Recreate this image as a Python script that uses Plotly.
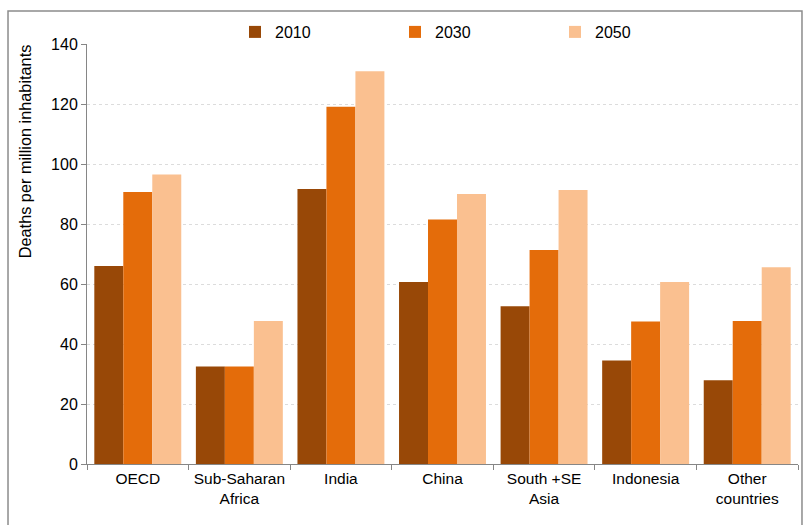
import plotly.graph_objects as go

regions = ["OECD", "Sub-Saharan<br>Africa", "India", "China",
           "South +SE<br>Asia", "Indonesia", "Other<br>countries"]
years = ["2010", "2030", "2050"]
deaths_2010 = [66.0, 32.5, 91.7, 60.7, 52.6, 34.5, 27.9]
deaths_2030 = [90.7, 32.5, 119.1, 81.5, 71.3, 47.5, 47.7]
deaths_2050 = [96.5, 47.7, 130.9, 90.0, 91.3, 60.7, 65.6]
colors = ["#984807", "#E46C0A", "#FAC090"]

fig = go.Figure()
for name, vals, col in zip(years, [deaths_2010, deaths_2030, deaths_2050], colors):
    fig.add_trace(go.Bar(
        name=name, x=regions, y=vals,
        marker=dict(color=col, line=dict(width=0)),
    ))

font = "Liberation Sans, Arial, sans-serif"
fig.update_layout(
    width=803, height=525,
    margin=dict(l=87, r=5, t=44, b=61, autoexpand=False),
    paper_bgcolor="white", plot_bgcolor="white",
    barmode="group", bargap=0.144, bargroupgap=0,
    font=dict(family=font, size=15.5, color="#000000"),
    showlegend=True,
    legend=dict(
        orientation="h", xref="container", yref="container",
        x=235 / 803, y=1 - 32 / 525, xanchor="left", yanchor="middle",
        entrywidth=115, entrywidthmode="pixels", itemwidth=30,
        font=dict(size=16), bgcolor="rgba(0,0,0,0)",
        traceorder="normal",
    ),
    xaxis=dict(
        showline=True, linecolor="#868686", linewidth=1,
        ticks="outside", tickson="boundaries", ticklen=5, tickcolor="#868686",
        tickfont=dict(size=15.5), showgrid=False,
    ),
    yaxis=dict(
        range=[0, 140], tick0=0, dtick=20,
        showline=True, linecolor="#868686", linewidth=1,
        ticks="outside", ticklen=5, tickcolor="#868686",
        tickfont=dict(size=16),
        showgrid=True, gridcolor="#dcdcdc", griddash="dot", gridwidth=1,
        zeroline=False,
    ),
    annotations=[dict(
        text="Deaths per million inhabitants", textangle=-90,
        xref="paper", yref="paper", x=-0.087, y=0.745,
        xanchor="center", yanchor="middle", showarrow=False,
        font=dict(size=16.3),
    )],
    shapes=[dict(
        type="rect", xref="paper", yref="paper",
        x0=-0.1111, x1=1.0056, y0=-0.2, y1=1.0786,
        line=dict(color="#8c8c8c", width=1.5), fillcolor="rgba(0,0,0,0)",
        layer="below",
    )],
)

fig.write_html("out.html")
